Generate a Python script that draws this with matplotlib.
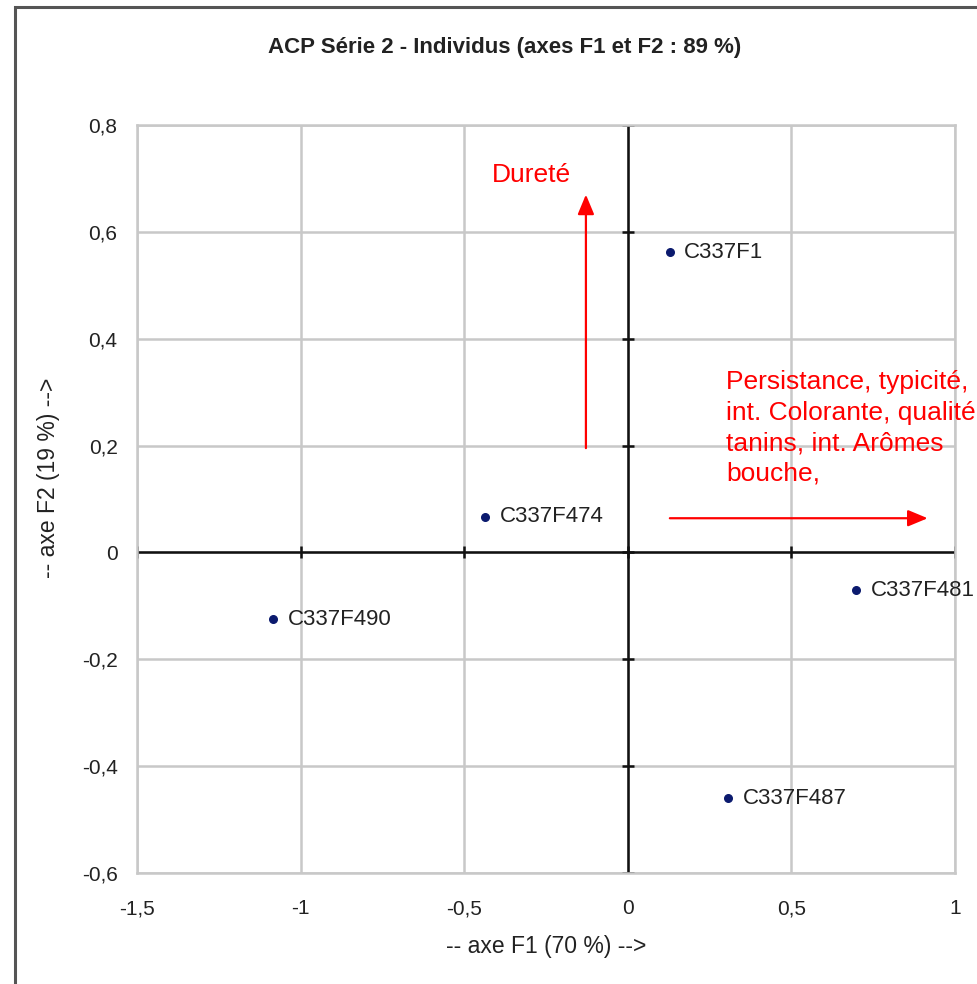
#!/usr/bin/env python3
import matplotlib
matplotlib.use("Agg")
import matplotlib.pyplot as plt
from matplotlib.patches import Rectangle

# individus (coordonnees sur F1, F2)
names = ['C337F1', 'C337F474', 'C337F490', 'C337F481', 'C337F487']
f1 = [0.128, -0.437, -1.083, 0.697, 0.306]
f2 = [0.562, 0.067, -0.125, -0.071, -0.460]

xticks = [-1.5, -1, -0.5, 0, 0.5, 1]
xlabels = ['-1,5', '-1', '-0,5', '0', '0,5', '1']
yticks = [-0.6, -0.4, -0.2, 0, 0.2, 0.4, 0.6, 0.8]
ylabels = ['-0,6', '-0,4', '-0,2', '0', '0,2', '0,4', '0,6', '0,8']

# annotations rouges
arrow_v = [(-0.128, 0.19), (-0.128, 0.675)]
arrow_h = [(0.12, 0.064), (0.925, 0.064)]
durete_pos = (-0.416, 0.706)
persist_pos = (0.30, 0.341)
persist_txt = "Persistance, typicité,\nint. Colorante, qualité\ntanins, int. Arômes\nbouche,"

plt.rcParams['font.family'] = ['Liberation Sans', 'DejaVu Sans']

fig = plt.figure(figsize=(9.78, 9.84), dpi=100)
ax = fig.add_axes([137/978, 111/984, 818/978, 748/984])

# cadre exterieur
fig.patches.append(Rectangle((15/978, -0.1), 1.2, 0.1 + (984-7)/984, transform=fig.transFigure,
                             fill=False, edgecolor='#555555', linewidth=2.2))

ax.set_xlim(-1.5, 1)
ax.set_ylim(-0.6, 0.8)
ax.set_xticks(xticks)
ax.set_xticklabels(xlabels)
ax.set_yticks(yticks)
ax.set_yticklabels(ylabels)
ax.tick_params(length=0, labelsize=15, colors='#222222')
ax.tick_params(axis='x', pad=19)
ax.tick_params(axis='y', pad=14)
ax.grid(True, color='#c8c8c8', linewidth=1.8)
for s in ax.spines.values():
    s.set_color('#c8c8c8')
    s.set_linewidth(1.8)

# axes F1 / F2 en noir avec graduations
ax.axhline(0, color='#111111', linewidth=1.8, zorder=2)
ax.axvline(0, color='#111111', linewidth=1.8, zorder=2)
ax.plot(xticks, [0]*len(xticks), '|', color='#111111', markersize=9, mew=1.8, zorder=2)
ax.plot([0]*len(yticks), yticks, '_', color='#111111', markersize=9, mew=1.8, zorder=2)

ax.scatter(f1, f2, s=30, color='#0b1a6e', zorder=3)
for n, x, y in zip(names, f1, f2):
    ax.annotate(n, (x, y), xytext=(10.5, 0), textcoords='offset points', va='center',
                fontsize=16, color='#222222')

ax.annotate('', xy=arrow_v[1], xytext=arrow_v[0],
            arrowprops=dict(arrowstyle='-|>,head_length=1.2,head_width=0.5', color='red', lw=1.6))
ax.annotate('', xy=arrow_h[1], xytext=arrow_h[0],
            arrowprops=dict(arrowstyle='-|>,head_length=1.2,head_width=0.5', color='red', lw=1.6))
ax.text(*durete_pos, 'Dureté', color='red', fontsize=19, va='center', ha='left')
ax.text(*persist_pos, persist_txt, color='red', fontsize=19, va='top', ha='left',
        linespacing=1.34, clip_on=False)

fig.text(505/978, 1 - 47/984, 'ACP Série 2 - Individus (axes F1 et F2 : 89 %)',
         fontsize=16, fontweight='bold', color='#222222', ha='center', va='center')
ax.set_xlabel('-- axe F1 (70 %) -->', fontsize=16.5, color='#222222', va='top')
ax.xaxis.set_label_coords(0.5, (873-935)/748)
ax.set_ylabel('-- axe F2 (19 %) -->', fontsize=16.5, color='#222222')
ax.yaxis.set_label_coords((60-137)/818, (873-478)/748)

fig.savefig('out.png', dpi=100)
